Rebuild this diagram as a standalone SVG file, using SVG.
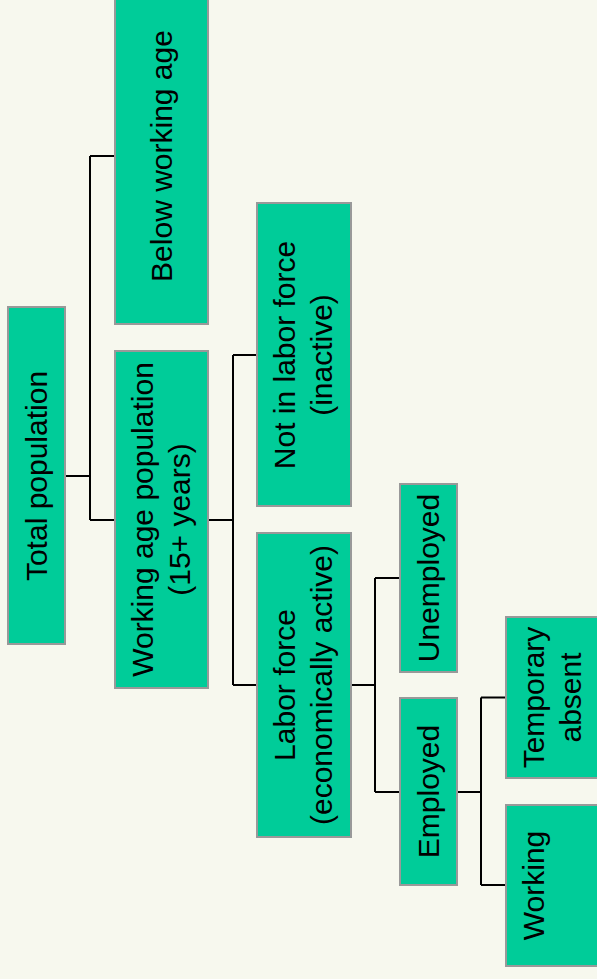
<svg xmlns="http://www.w3.org/2000/svg" width="597" height="979" viewBox="0 0 597 979">
<style>
.bg{fill:#F7F8EE}
.box{fill:#00CC99;stroke:#999999;stroke-width:2}
.lbl{font-family:"Liberation Sans",Arial,sans-serif;font-size:30px;fill:#000;text-anchor:middle}
.conn{fill:none;stroke:#000;stroke-width:2}
</style>
<rect class="bg" x="0" y="0" width="597" height="979"/>
<g id="connectors">
<path class="conn" d="M65,476H90M90,156V520M90,156H115M90,520H115"/>
<path class="conn" d="M208,520H233M233,355V685M233,355H257M233,685H257"/>
<path class="conn" d="M351,685H375M375,578V792M375,578H400M375,792H400"/>
<path class="conn" d="M457,792H481M481,697.5V885M481,697.5H506M481,885H506"/>
</g>
<g id="below">
<rect class="box" x="115" y="-12" width="93" height="336"/>
<text class="lbl" transform="translate(161.5,156) rotate(-90)" y="10">Below working age</text>
</g>
<g id="total">
<rect class="box" x="8" y="307" width="57" height="337"/>
<text class="lbl" transform="translate(36.5,476) rotate(-90)" y="10">Total population</text>
</g>
<g id="workingage">
<rect class="box" x="115" y="351" width="93" height="337"/>
<text class="lbl" transform="translate(161.5,519.5) rotate(-90)"><tspan x="0" y="-8.6">Working age population</tspan><tspan x="0" y="28.4">(15+ years)</tspan></text>
</g>
<g id="notinlf">
<rect class="box" x="257" y="203" width="94" height="303"/>
<text class="lbl" transform="translate(304,355) rotate(-90)"><tspan x="0" y="-8.6">Not in labor force</tspan><tspan x="0" y="28.4">(inactive)</tspan></text>
</g>
<g id="laborforce">
<rect class="box" x="257" y="533" width="94" height="304"/>
<text class="lbl" transform="translate(304,685) rotate(-90)"><tspan x="0" y="-8.6">Labor force</tspan><tspan x="0" y="28.4">(economically active)</tspan></text>
</g>
<g id="unemployed">
<rect class="box" x="400" y="484" width="57" height="188"/>
<text class="lbl" transform="translate(428.5,578) rotate(-90)" y="10">Unemployed</text>
</g>
<g id="employed">
<rect class="box" x="400" y="698" width="57" height="187"/>
<text class="lbl" transform="translate(428.5,791.5) rotate(-90)" y="10">Employed</text>
</g>
<g id="temporary">
<rect class="box" x="506" y="617" width="94" height="161"/>
<text class="lbl" transform="translate(553,697.5) rotate(-90)"><tspan x="0" y="-8.6">Temporary</tspan><tspan x="0" y="28.4">absent</tspan></text>
</g>
<g id="working">
<rect class="box" x="506" y="805" width="94" height="161"/>
<text class="lbl" transform="translate(553,885.5) rotate(-90)" y="-8.6">Working</text>
</g>
</svg>
